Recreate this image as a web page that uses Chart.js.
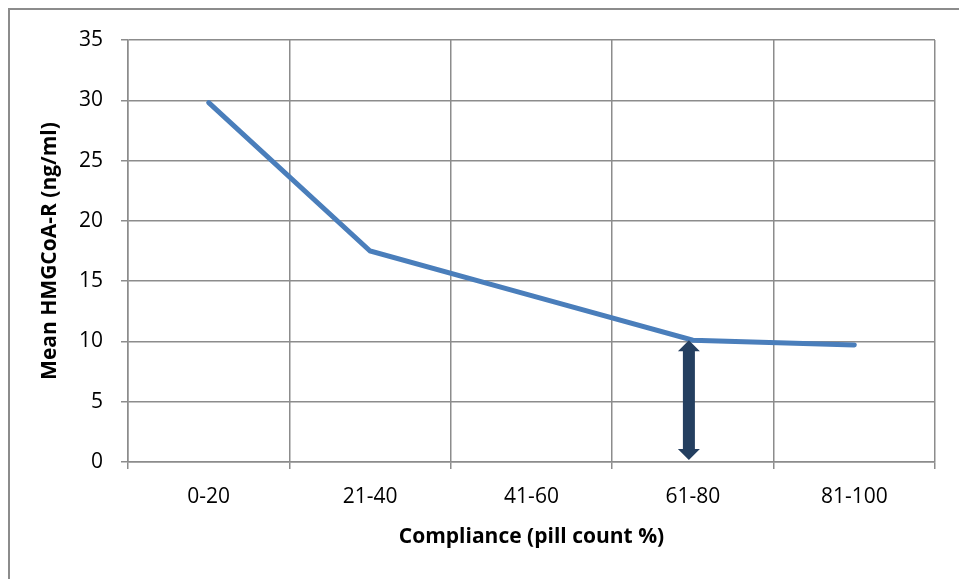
<!DOCTYPE html>
<html>
<head>
<meta charset="utf-8">
<script src="https://cdn.jsdelivr.net/npm/chart.js@4"></script>
<style>
    html, body { margin: 0; padding: 0; background: #fff; }
    #wrap { width: 959px; height: 579px; position: relative; }
</style>
</head>
<body>
<div id="wrap"><canvas id="chart1"></canvas></div>
<script>
// data
var complianceGroups = ['0-20', '21-40', '41-60', '61-80', '81-100'];
var meanHmgcoa = [29.8, 17.5, 13.8, 10.1, 9.7];
var yTicks = [0, 5, 10, 15, 20, 25, 30, 35];

// double arrow drawn under the 61-80 point, from the value down to zero
var arrowCategory = '61-80';
var arrowFrom = 10.1;
var arrowTo = 0;

var gridColor = '#8c8c8c';

// frame around the whole chart (only top and left show in the picture)
var framePlugin = {
    id: 'frame',
    beforeDraw: function(chart) {
        var c = chart.ctx;
        c.save();
        c.strokeStyle = gridColor;
        c.lineWidth = 2;
        c.beginPath();
        c.moveTo(9, chart.height + 5);
        c.lineTo(9, 9);
        c.lineTo(chart.width + 5, 9);
        c.stroke();
        c.restore();
    }
};

var arrowPlugin = {
    id: 'arrow',
    afterDatasetsDraw: function(chart) {
        var xs = chart.scales.x, ys = chart.scales.y;
        var x = xs.getPixelForValue(complianceGroups.indexOf(arrowCategory)) - 4;
        var yTop = ys.getPixelForValue(arrowFrom);
        var yBot = ys.getPixelForValue(arrowTo) - 2;
        var c = chart.ctx;
        var shaft = 6, head = 11, headLen = 11;
        c.save();
        c.fillStyle = '#243f60';
        c.beginPath();
        c.moveTo(x, yTop);
        c.lineTo(x + head, yTop + headLen);
        c.lineTo(x + shaft, yTop + headLen);
        c.lineTo(x + shaft, yBot - headLen);
        c.lineTo(x + head, yBot - headLen);
        c.lineTo(x, yBot);
        c.lineTo(x - head, yBot - headLen);
        c.lineTo(x - shaft, yBot - headLen);
        c.lineTo(x - shaft, yTop + headLen);
        c.lineTo(x - head, yTop + headLen);
        c.closePath();
        c.fill();
        c.restore();
    }
};

var ctx = document.getElementById('chart1').getContext('2d');
var myChart = new Chart(ctx, {
    type: 'line',
    data: {
        labels: complianceGroups,
        datasets: [{
            label: 'Mean HMGCoA-R',
            data: meanHmgcoa,
            borderColor: '#4a7ebb',
            backgroundColor: '#4a7ebb',
            borderWidth: 5,
            borderCapStyle: 'round',
            pointRadius: 0,
            tension: 0,
            fill: false
        }]
    },
    options: {
        responsive: true,
        maintainAspectRatio: false,
        animation: false,
        layout: {
            padding: { left: 0, top: 40, right: 24, bottom: 0 }
        },
        plugins: {
            legend: { display: false },
            tooltip: { enabled: false }
        },
        scales: {
            x: {
                type: 'category',
                offset: true,
                afterFit: function(s) { s.height = 117; },
                grid: {
                    offset: true,
                    color: gridColor,
                    lineWidth: 1.5,
                    tickLength: 7
                },
                border: { color: gridColor, width: 1.5 },
                ticks: {
                    color: '#000',
                    padding: 15,
                    font: { family: 'Open Sans', size: 21 }
                },
                title: {
                    display: true,
                    text: 'Compliance (pill count %)',
                    color: '#000',
                    font: { family: 'Open Sans', size: 21, weight: 'bold' },
                    padding: { top: 0, bottom: 29 }
                }
            },
            y: {
                min: 0,
                max: 35,
                afterFit: function(s) { s.width = 128; },
                afterBuildTicks: function(s) {
                    s.ticks = yTicks.map(function(v) { return { value: v }; });
                },
                grid: {
                    color: gridColor,
                    lineWidth: 1.5,
                    tickLength: 7
                },
                border: { color: gridColor, width: 1.5 },
                ticks: {
                    color: '#000',
                    padding: 18,
                    font: { family: 'Open Sans', size: 21 }
                },
                title: {
                    display: true,
                    text: 'Mean HMGCoA-R (ng/ml)',
                    color: '#000',
                    font: { family: 'Open Sans', size: 21, weight: 'bold' },
                    padding: { top: 37, bottom: 0 }
                }
            }
        }
    },
    plugins: [framePlugin, arrowPlugin]
});
</script>
</body>
</html>
